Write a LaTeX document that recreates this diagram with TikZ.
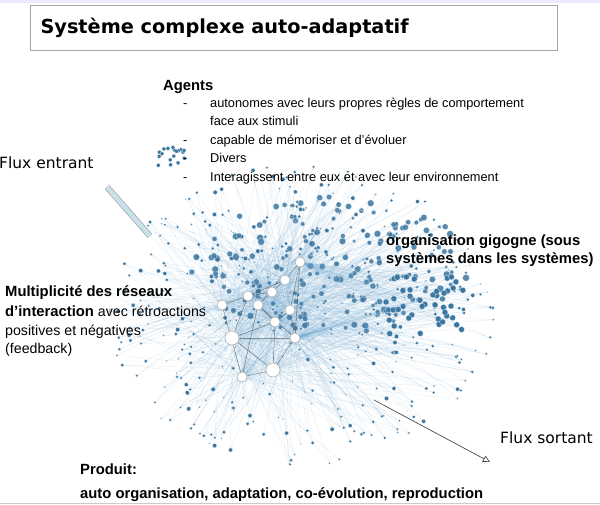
\documentclass[tikz,border=0pt]{standalone}
\usepackage{fontspec}
\setmainfont{Liberation Sans}
\newfontfamily\titlefont{DejaVu Sans}
\usetikzlibrary{arrows.meta}
\definecolor{netblue}{RGB}{58,118,160}
\definecolor{edgeblue}{RGB}{110,165,205}
\definecolor{arrowfill}{RGB}{200,225,235}
\tikzset{
  edge/.style={edgeblue, line width=0.3pt, opacity=0.22},
  hubedge/.style={black!70, line width=0.6pt, opacity=0.55},
  dot/.style={circle, fill=netblue, draw=white, line width=0.2pt, inner sep=0pt},
  hub/.style={circle, fill=white, draw=gray!60, line width=0.6pt, inner sep=0pt, minimum size=10pt},
  txt/.style={font=\fontsize{12.8}{15}\selectfont, inner sep=0pt, anchor=base west},
  bigtxt/.style={txt, font=\fontsize{14.2}{16}\selectfont},
  bold/.style={txt, font=\fontsize{14.8}{17}\selectfont\bfseries}
}
\begin{document}
\begin{tikzpicture}[x=1pt, y=-1pt]
\useasboundingbox (0,0) rectangle (600,504);
\fill[blue!8] (0,0) rectangle (600,3);
% hubs
\foreach \n/\hx/\hy in {1/232/338, 2/273/370, 3/295/338, 4/258/305, 5/272/292, 6/248/296, 7/222/305, 8/242/377, 9/275/322, 10/290/310, 11/300/262, 12/285/280}
  \coordinate (h\n) at (\hx,\hy);
% cloud
\pgfmathsetseed{11}
\foreach \i in {1,...,420}{
  \pgfmathsetmacro\ang{rand*180}
  \pgfmathsetmacro\rad{sqrt(rnd)}
  \pgfmathsetmacro\px{300+195*\rad*cos(\ang)}
  \pgfmathsetmacro\py{315+150*\rad*sin(\ang)}
  \pgfmathrandominteger\ha{1}{12}
  \pgfmathrandominteger\hb{1}{12}
  \draw[edge] (\px,\py) -- (h\ha) (\px,\py) -- (h\hb);
  \pgfmathsetmacro\sz{1.5+3*rnd}
  \node[dot, minimum size=\sz pt] at (\px,\py) {};
}
% upper blob
\foreach \i in {1,...,220}{
  \pgfmathsetmacro\ang{rand*180}
  \pgfmathsetmacro\rad{sqrt(rnd)}
  \pgfmathsetmacro\px{330+140*\rad*cos(\ang)}
  \pgfmathsetmacro\py{265+70*\rad*sin(\ang)}
  \pgfmathrandominteger\ha{1}{12}
  \draw[edge] (\px,\py) -- (h\ha);
  \pgfmathsetmacro\sz{3+4*rnd}
  \node[dot, minimum size=\sz pt, opacity=0.85] at (\px,\py) {};
}
% right cluster
\foreach \i in {1,...,45}{
  \pgfmathsetmacro\px{425+40*rand}
  \pgfmathsetmacro\py{305+30*rand}
  \draw[edge] (\px,\py) -- (h11) (\px,\py) -- (h3);
  \node[dot, minimum size=6pt] at (\px,\py) {};
}
% top left cluster
\foreach \i in {1,...,18}{
  \pgfmathsetmacro\px{172+14*rand}
  \pgfmathsetmacro\py{157+10*rand}
  \node[dot, minimum size=4pt] at (\px,\py) {};
}
% hub links
\foreach \a/\b in {1/2,1/3,2/3,3/4,4/5,5/6,6/7,7/8,8/2,9/10,9/1,10/11,11/12,12/5,4/9,3/10,2/9,8/4,1/6,3/11,6/12}
  \draw[hubedge] (h\a) -- (h\b);
\foreach \n in {1,...,12}
  \node[hub] (hub\n) at (h\n) {};
\node[hub, minimum size=14pt] at (h1) {};
\node[hub, minimum size=14pt] at (h2) {};
% title
\draw[gray!70, fill=white] (30,5) rectangle (557,50);
\node[anchor=west, font=\titlefont\bfseries\fontsize{19.3}{22}\selectfont] (title) at (37,28) {Système complexe auto-adaptatif};
% agents
\node[bold] (agents) at (163,90) {Agents};
\foreach \k/\t in {0/autonomes avec leurs propres règles de comportement, 2/capable de mémoriser et d'évoluer, 3/Divers, 4/Interagissent entre eux et avec leur environnement}{
  \node[txt] at (183,107+18.5*\k) {-};
  \node[txt] at (210,107+18.5*\k) {\t};
}
\node[txt] (face) at (210,125.5) {face aux stimuli};
% flux
\node[txt, font=\titlefont\fontsize{15.5}{17}\selectfont] (fin) at (-1,168) {Flux entrant};
\coordinate (fina) at (107,187);
\coordinate (finb) at (150,236);
\draw[gray!70, line width=6pt] (fina) -- (finb);
\draw[arrowfill, line width=4.5pt] (fina) -- (finb);
\node[txt, font=\titlefont\fontsize{15.5}{17}\selectfont] (fout) at (500,443) {Flux sortant};
\coordinate (fouta) at (374,400);
\coordinate (foutb) at (490,462);
\draw[black!70, line width=0.7pt, -{Triangle[open, length=7pt, width=7pt]}] (fouta) -- (foutb);
% labels
\node[bold] (gig1) at (386,245) {organisation gigogne (sous};
\node[bold] (gig2) at (386,263) {systèmes dans les systèmes)};
\node[bold] (mult1) at (5,296) {Multiplicité des réseaux};
\node[bigtxt] (mult2) at (5,316) {\textbf{\fontsize{14.8}{17}\selectfont d'interaction} avec rétroactions};
\node[bigtxt] (mult3) at (5,335) {positives et négatives};
\node[bigtxt] (mult4) at (5,353) {(feedback)};
\node[bold] (prod1) at (80,474) {Produit:};
\node[bold] (prod2) at (80,498) {auto organisation, adaptation, co-évolution, reproduction};
\draw[gray!40] (0,503.5) -- (600,503.5);
\end{tikzpicture}
\end{document}
